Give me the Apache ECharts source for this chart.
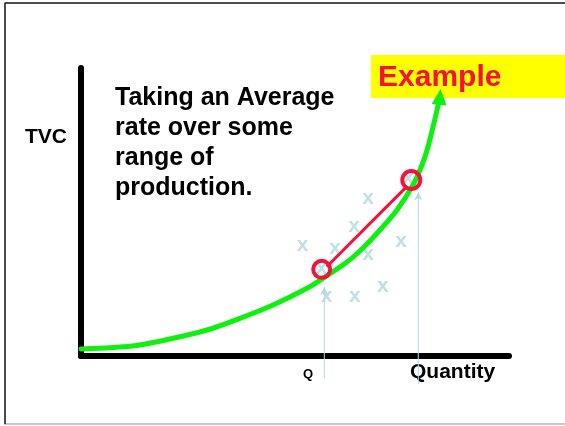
<!DOCTYPE html>
<html><head><meta charset="utf-8">
<script src="https://cdn.jsdelivr.net/npm/echarts@6/dist/echarts.min.js"></script>
<style>html,body{margin:0;padding:0;background:#fff}#c{width:565px;height:426px}</style>
</head><body><div id="c"></div>
<script>
// TVC curve (x = quantity, y = total variable cost), arbitrary units 0-100
const curveX = [0, 6.78, 13.79, 21.5, 29.44, 37.15, 44.86, 52.8, 56.54, 62.15, 65.89, 69.86, 73.83, 77.57, 79.67, 81.07, 82.24, 83.18, 83.53];
const curveY = [2.43, 2.85, 3.82, 6.15, 9.03, 13.09, 17.71, 23.51, 26.98, 32.64, 37.5, 43.75, 50.69, 59.38, 66.32, 72.57, 79.51, 85.42, 87.85];
const arrowTip = [83.85, 90.0];
// scattered "x" observations
const obsX = [51.8, 59.35, 63.8, 67.1, 67.1, 74.8, 56.2, 57.4, 64.0, 70.5, 76.5];
const obsY = [37.7, 36.6, 44.3, 54.2, 34.5, 39.3, 29.9, 20.0, 20.0, 23.4, 61.1];
// range endpoints (circles) and average-rate chord
const rangeX = [56.24, 77.17];
const rangeY = [30.1, 61.1];
const chordX = [57.41, 76.1];
const chordY = [31.0, 58.8];
// guide lines down to the quantity axis
const guideX = [56.85, 78.81];
const guideTop = [24.0, 56.9];
const guideBottom = [-7.6, -9.7];

const yLabel = 'TVC';
const xLabel = 'Quantity';
const qLabel = 'Q';
const noteText = 'Taking an Average\nrate over some\nrange of\nproduction.';
const exampleText = 'Example';

const FONT = '"Liberation Sans", Arial, sans-serif';
const green = '#10f010', red = '#f5113a', blue = '#b4dbe3', xCol = '#acd9de';

const series = [];
series.push({
  type: 'line', z: 3, smooth: 0.25, symbol: 'none', clip: false,
  lineStyle: {color: green, width: 5, cap: 'round'},
  data: curveX.map((x, i) => [x, curveY[i]]),
  markPoint: {
    symbol: 'triangle', symbolSize: [15, 16], label: {show: false},
    itemStyle: {color: green, opacity: 1},
    data: [{coord: arrowTip, symbolRotate: -6}]
  }
});
guideX.forEach((gx, i) => {
  series.push({
    type: 'line', z: 1, clip: false, symbol: 'none', showSymbol: true,
    lineStyle: {color: blue, width: 1}, itemStyle: {color: blue},
    data: [[gx, guideBottom[i]], {value: [gx, guideTop[i]], symbol: 'arrow', symbolSize: [6, 8]}]
  });
});
series.push({
  type: 'scatter', z: 2, symbol: 'circle', symbolSize: 1, clip: false,
  itemStyle: {color: 'rgba(0,0,0,0)'},
  label: {show: true, position: 'inside', formatter: 'x', color: xCol,
          fontSize: 21, fontWeight: 'bold', fontFamily: FONT, offset: [0, -2]},
  data: obsX.map((x, i) => [x, obsY[i]])
});
series.push({
  type: 'line', z: 4, symbol: 'none', clip: false,
  lineStyle: {color: red, width: 3},
  data: chordX.map((x, i) => [x, chordY[i]])
});
series.push({
  type: 'scatter', z: 5, symbol: 'circle', clip: false,
  symbolSize: (v, p) => p.dataIndex === 0 ? 17 : 18,
  itemStyle: {color: 'rgba(0,0,0,0)', borderColor: red, borderWidth: 4, opacity: 1},
  data: rangeX.map((x, i) => [x, rangeY[i]])
});

const chart = echarts.init(document.getElementById('c'), null, {renderer: 'canvas'});
chart.setOption({
  animation: false,
  backgroundColor: '#fff',
  grid: {left: 81, top: 68, right: 56, bottom: 70},
  xAxis: {type: 'value', min: 0, max: 100, axisLine: {show: true, lineStyle: {color: '#000', width: 6}},
          axisTick: {show: false}, axisLabel: {show: false}, splitLine: {show: false}},
  yAxis: {type: 'value', min: 0, max: 100, axisLine: {show: true, lineStyle: {color: '#000', width: 6}},
          axisTick: {show: false}, axisLabel: {show: false}, splitLine: {show: false}},
  graphic: [
    {type: 'rect', z: -10, shape: {x: 5, y: 3, width: 580, height: 421}, style: {fill: 'none', stroke: '#c8c8c8', lineWidth: 2}},
    {type: 'line', z: -9, shape: {x1: 5, y1: 3, x2: 565, y2: 3}, style: {stroke: '#222', lineWidth: 1.5}},
    {type: 'line', z: -9, shape: {x1: 5, y1: 3, x2: 5, y2: 424}, style: {stroke: '#222', lineWidth: 1.5}},
    {type: 'rect', z: -5, shape: {x: 371, y: 55, width: 200, height: 43}, style: {fill: '#ffff00'}},
    {type: 'text', z: -4, x: 378, y: 77.5, style: {text: exampleText, fill: red, font: 'bold 30px ' + FONT, verticalAlign: 'middle'}},
    {type: 'text', x: 25, y: 137.5, style: {text: yLabel, fill: '#000', font: 'bold 21px ' + FONT, verticalAlign: 'middle'}},
    {type: 'text', x: 115, y: 83, style: {text: noteText, fill: '#000', font: 'bold 25px ' + FONT, lineHeight: 30, verticalAlign: 'top'}},
    {type: 'text', x: 410, y: 372, style: {text: xLabel, fill: '#000', font: 'bold 21px ' + FONT, verticalAlign: 'middle'}},
    {type: 'text', x: 303, y: 374, style: {text: qLabel, fill: '#000', font: 'bold 13px ' + FONT, verticalAlign: 'middle'}}
  ],
  series: series
});
</script>
</body></html>
